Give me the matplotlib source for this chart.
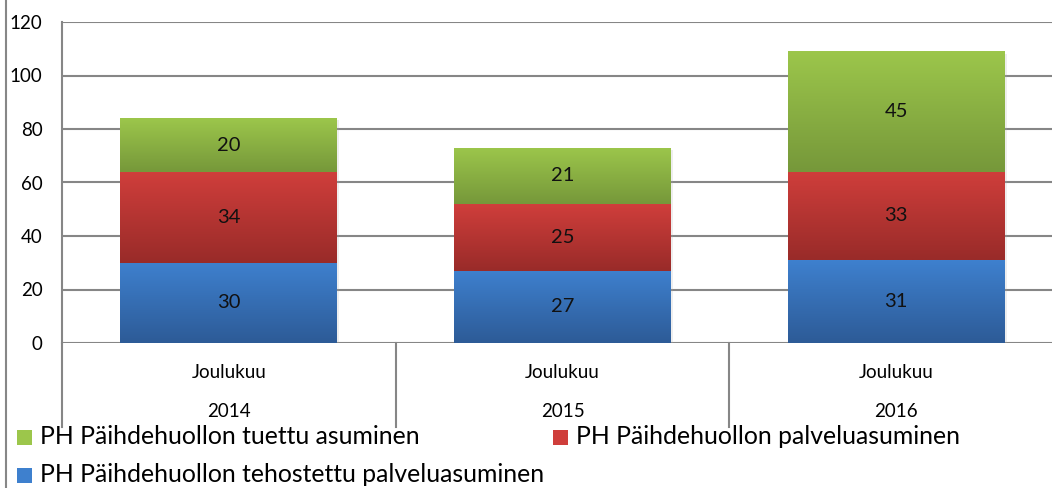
import numpy as np
import matplotlib
matplotlib.use("Agg")
import matplotlib.pyplot as plt
import matplotlib.colors as mcolors
import matplotlib.patheffects as pe
from matplotlib.patches import Rectangle
from matplotlib.lines import Line2D

plt.rcParams['font.family'] = ['Lato', 'DejaVu Sans']

months = ['Joulukuu', 'Joulukuu', 'Joulukuu']
years = ['2014', '2015', '2016']

series_names = [
    'PH Päihdehuollon tehostettu palveluasuminen',
    'PH Päihdehuollon palveluasuminen',
    'PH Päihdehuollon tuettu asuminen',
]
tehostettu = [30, 27, 31]
palvelu = [34, 25, 33]
tuettu = [20, 21, 45]
series_values = [tehostettu, palvelu, tuettu]

# top / bottom colour of each gradient fill
grad_top = ['#3e80ce', '#cf3e3b', '#9cc64b']
grad_bottom = ['#2d5b97', '#992b29', '#76983a']

fig = plt.figure(figsize=(10.52, 4.88), dpi=100)
ax = fig.add_axes([62 / 1052, 145 / 488, 1001 / 1052, 321 / 488])

x = np.arange(len(years))
bottom = np.zeros(len(years))
for vals, top_c, bot_c in zip(series_values, grad_top, grad_bottom):
    mid = mcolors.to_rgb(top_c)
    bars = ax.bar(x, vals, width=0.65, bottom=bottom, color=mid, zorder=3,
                  path_effects=[pe.SimplePatchShadow(offset=(1.5, -1.5), shadow_rgbFace='#aaaaaa', alpha=0.2),
                                pe.Normal()])
    grad = np.linspace(mcolors.to_rgb(top_c), mcolors.to_rgb(bot_c), 64)[:, None, :]
    for bar, v in zip(bars, vals):
        bx, by = bar.get_x(), bar.get_y()
        bw, bh = bar.get_width(), bar.get_height()
        im = ax.imshow(grad, extent=[bx, bx + bw, by, by + bh], aspect='auto',
                       origin='upper', zorder=4, interpolation='bilinear')
        im.set_clip_path(bar)
        ax.text(bx + bw / 2, by + bh / 2, str(v), ha='center', va='center',
                fontsize=14.5, color='#111111', zorder=5)
    bottom += np.array(vals)

ax.set_xlim(-0.5, len(years) - 0.5)
ax.set_ylim(0, 120)
ax.set_yticks(range(0, 121, 20))
ax.tick_params(axis='y', length=0, pad=14, labelsize=13.5)
ax.set_xticks([])
ax.grid(axis='y', color='#868686', linewidth=1.5, zorder=1)
for side in ['top', 'right', 'bottom']:
    ax.spines[side].set_visible(False)
ax.spines['left'].set_color('#868686')
ax.spines['left'].set_linewidth(1.5)

# two-level category axis with separators
tr = ax.get_xaxis_transform()
for i in range(len(years) + 1):
    ax.plot([i - 0.5, i - 0.5], [0, -0.262], transform=tr, color='#868686',
            lw=1.5, clip_on=False)
for i, (m, yr) in enumerate(zip(months, years)):
    ax.text(i, -0.093, m, transform=tr, ha='center', va='center', fontsize=13.5)
    ax.text(i, -0.212, yr, transform=tr, ha='center', va='center', fontsize=13.5)

# chart frame line on the left
fig.add_artist(Line2D([6 / 1052, 6 / 1052], [0, 1], color='#878787', lw=1.5))

# legend
legend_pos = [(17, 437), (553, 437), (17, 475)]
legend_order = [2, 1, 0]
for (lx, ly), k in zip(legend_pos, legend_order):
    fig.add_artist(Rectangle(((lx) / 1052, 1 - (ly + 7.5) / 488), 15 / 1052, 15 / 488,
                             transform=fig.transFigure, facecolor=grad_top[k],
                             edgecolor='none'))
    fig.text((lx + 23) / 1052, 1 - ly / 488, series_names[k], ha='left',
             va='center', fontsize=17.8)

fig.savefig('out.png', dpi=100)
